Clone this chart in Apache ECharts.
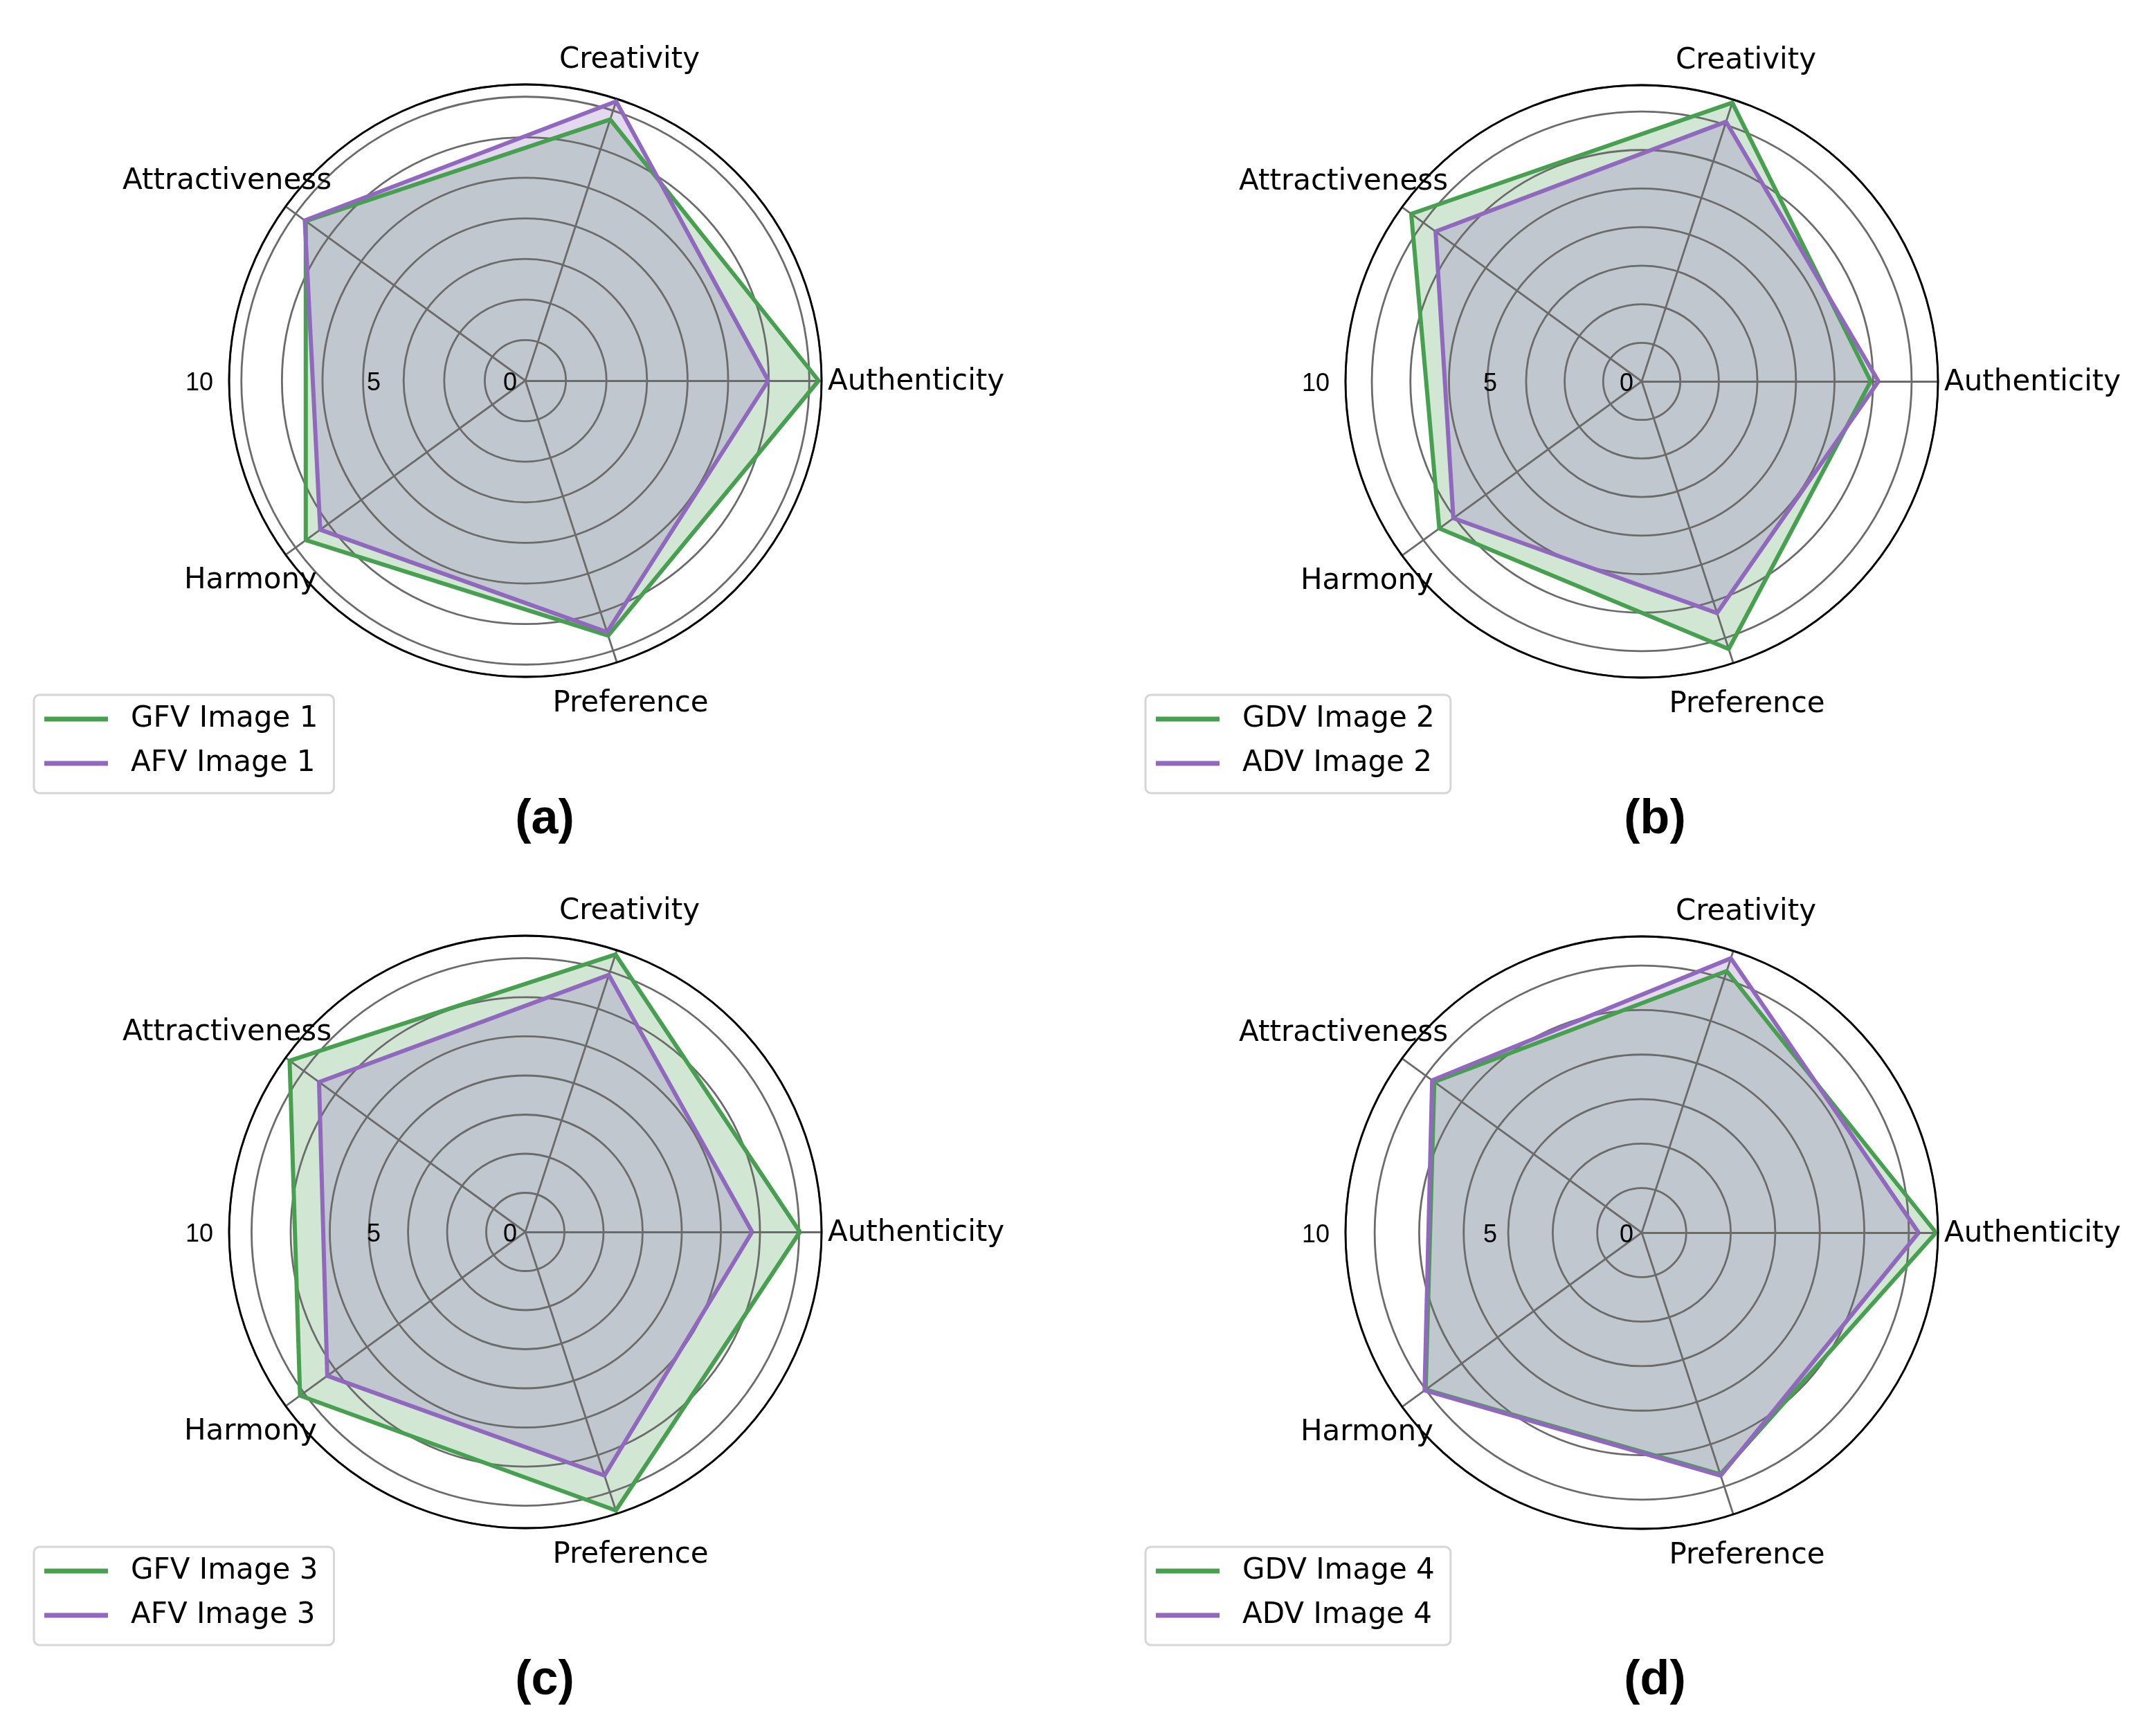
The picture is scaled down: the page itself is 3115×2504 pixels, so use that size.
<!DOCTYPE html>
<html>
<head>
<meta charset="utf-8">
<script src="https://cdn.jsdelivr.net/npm/echarts@6/dist/echarts.min.js"></script>
<style>
html, body { margin: 0; padding: 0; background: #ffffff; }
#chart { width: 3115px; height: 2504px; }
</style>
</head>
<body>
<div id="chart"></div>
<script>
// ---------------- data ----------------
const categories = ['Authenticity', 'Creativity', 'Attractiveness', 'Harmony', 'Preference'];
const radialTickLabels = ['0', '5', '10'];
const captions = ['(a)', '(b)', '(c)', '(d)'];
const greenNames = ['GFV Image 1', 'GDV Image 2', 'GFV Image 3', 'GDV Image 4'];
const purpleNames = ['AFV Image 1', 'ADV Image 2', 'AFV Image 3', 'ADV Image 4'];

const greenImage1 = [7.23, 6.77, 6.69, 6.69, 6.61];
const purpleImage1 = [5.99, 7.24, 6.72, 6.25, 6.52];
const greenImage2 = [5.94, 7.60, 7.39, 6.49, 7.30];
const purpleImage2 = [6.14, 7.08, 6.61, 6.04, 6.32];
const greenImage3 = [7.02, 7.46, 7.45, 7.12, 7.49];
const purpleImage3 = [5.80, 6.91, 6.52, 6.26, 6.55];
const greenImage4 = [6.61, 6.18, 5.76, 6.00, 5.71];
const purpleImage4 = [6.22, 6.48, 5.82, 6.03, 5.74];

const greenSets = [greenImage1, greenImage2, greenImage3, greenImage4];
const purpleSets = [purpleImage1, purpleImage2, purpleImage3, purpleImage4];

// ---------------- style / layout ----------------
const GREEN = '#46a04f';
const PURPLE = '#9068be';
const GRID = '#6b6b6b';
const R = 428;
const panels = [
  { cx: 759,  cy: 550,  legendLeft: 49,   legendTop: 1004, capX: 787,  capY: 1185 },
  { cx: 2372, cy: 551,  legendLeft: 1655, legendTop: 1004, capX: 2391, capY: 1185 },
  { cx: 759,  cy: 1780, legendLeft: 49,   legendTop: 2235, capX: 787,  capY: 2429 },
  { cx: 2372, cy: 1781, legendLeft: 1655, legendTop: 2235, capX: 2391, capY: 2429 }
];
const nameLayout = [
  { dx: 437,   dy: 2,      align: 'left' },
  { dx: 150.5, dy: -462.5, align: 'center' },
  { dx: -431,  dy: -287.5, align: 'center' },
  { dx: -397,  dy: 289,    align: 'center' },
  { dx: 152,   dy: 467,    align: 'center' }
];
const radialLabelDx = [-22, -219, -471];
const radialLabelDy = 4;

// radial extent like matplotlib autoscale: top = max + 5% of data range
const radialMax = panels.map((p, i) => {
  const all = greenSets[i].concat(purpleSets[i]);
  const mx = Math.max.apply(null, all), mn = Math.min.apply(null, all);
  return mx + 0.05 * (mx - mn);
});

const radar = panels.map((p, i) => ({
  center: [p.cx, p.cy],
  radius: R,
  startAngle: 0,
  shape: 'circle',
  z: 2,
  indicator: categories.map(n => ({ name: n, min: 0, max: radialMax[i] })),
  axisName: { show: false },
  splitLine: { show: false },
  splitArea: { show: false },
  axisTick: { show: false },
  axisLabel: { show: false },
  axisLine: { show: true, lineStyle: { color: GRID, width: 2.8 } }
}));

const polar = panels.map(p => ({ center: [p.cx, p.cy], radius: R }));
const angleAxis = panels.map((p, i) => ({
  polarIndex: i, type: 'value', min: 0, max: 360, startAngle: 0, z: 3,
  axisLine: { show: true, lineStyle: { color: '#000000', width: 2.8 } },
  axisTick: { show: false }, axisLabel: { show: false }, splitLine: { show: false }
}));
const radiusAxis = panels.map((p, i) => ({
  polarIndex: i, type: 'value', min: 0, max: radialMax[i], interval: 1, z: 2,
  axisLine: { show: false }, axisTick: { show: false }, axisLabel: { show: false },
  splitLine: { show: true, lineStyle: { color: GRID, width: 2.8 } }
}));

const series = [];
panels.forEach((p, i) => {
  // filled areas (below grid)
  [[greenSets[i], GREEN, greenNames[i]], [purpleSets[i], PURPLE, purpleNames[i]]].forEach(([vals, col, nm]) => {
    series.push({
      type: 'radar', radarIndex: i, z: 1, silent: true, symbol: 'none',
      itemStyle: { color: col },
      lineStyle: { width: 0, opacity: 0 },
      areaStyle: { color: col, opacity: 0.25 },
      data: [{ name: nm + ' (area)', value: vals }]
    });
  });
  // outlines (above grid)
  [[greenSets[i], GREEN, greenNames[i]], [purpleSets[i], PURPLE, purpleNames[i]]].forEach(([vals, col, nm]) => {
    series.push({
      type: 'radar', radarIndex: i, z: 4, silent: true, symbol: 'none',
      itemStyle: { color: col },
      lineStyle: { width: 6, color: col },
      data: [{ name: nm, value: vals }]
    });
  });
});

const legend = panels.map((p, i) => ({
  data: [greenNames[i], purpleNames[i]],
  orient: 'vertical',
  left: p.legendLeft, top: p.legendTop,
  padding: [14, 23, 22, 15],
  itemGap: 22, itemWidth: 92, itemHeight: 7,
  icon: 'rect', selectedMode: false,
  itemStyle: { borderWidth: 0 },
  backgroundColor: 'rgba(255,255,255,0.8)',
  borderColor: '#d6d6d6', borderWidth: 3, borderRadius: 8,
  textStyle: { fontSize: 42, fontFamily: 'DejaVu Sans', color: '#000000', padding: [0, 0, 0, 28] },
  z: 10
}));

const graphic = [];
panels.forEach((p, i) => {
  categories.forEach((name, j) => {
    const L = nameLayout[j];
    graphic.push({ type: 'text', x: p.cx + L.dx, y: p.cy + L.dy, z: 10, silent: true,
      style: { text: name, fill: '#000000', fontSize: 42, fontFamily: 'DejaVu Sans', align: L.align, verticalAlign: 'middle' } });
  });
  radialTickLabels.forEach((t, j) => {
    graphic.push({ type: 'text', x: p.cx + radialLabelDx[j], y: p.cy + radialLabelDy, z: 10, silent: true,
      style: { text: t, fill: '#000000', fontSize: 36, fontFamily: 'Liberation Sans', align: 'center', verticalAlign: 'middle' } });
  });
  graphic.push({ type: 'text', x: p.capX, y: p.capY, z: 10, silent: true,
    style: { text: captions[i], fill: '#000000', fontSize: 70, fontWeight: 'bold', fontFamily: 'Liberation Sans', align: 'center', verticalAlign: 'middle' } });
});

const chart = echarts.init(document.getElementById('chart'), null, { renderer: 'canvas', width: 3115, height: 2504 });
chart.setOption({
  animation: false,
  backgroundColor: '#ffffff',
  radar, polar, angleAxis, radiusAxis, series, legend, graphic
});
</script>
</body>
</html>
